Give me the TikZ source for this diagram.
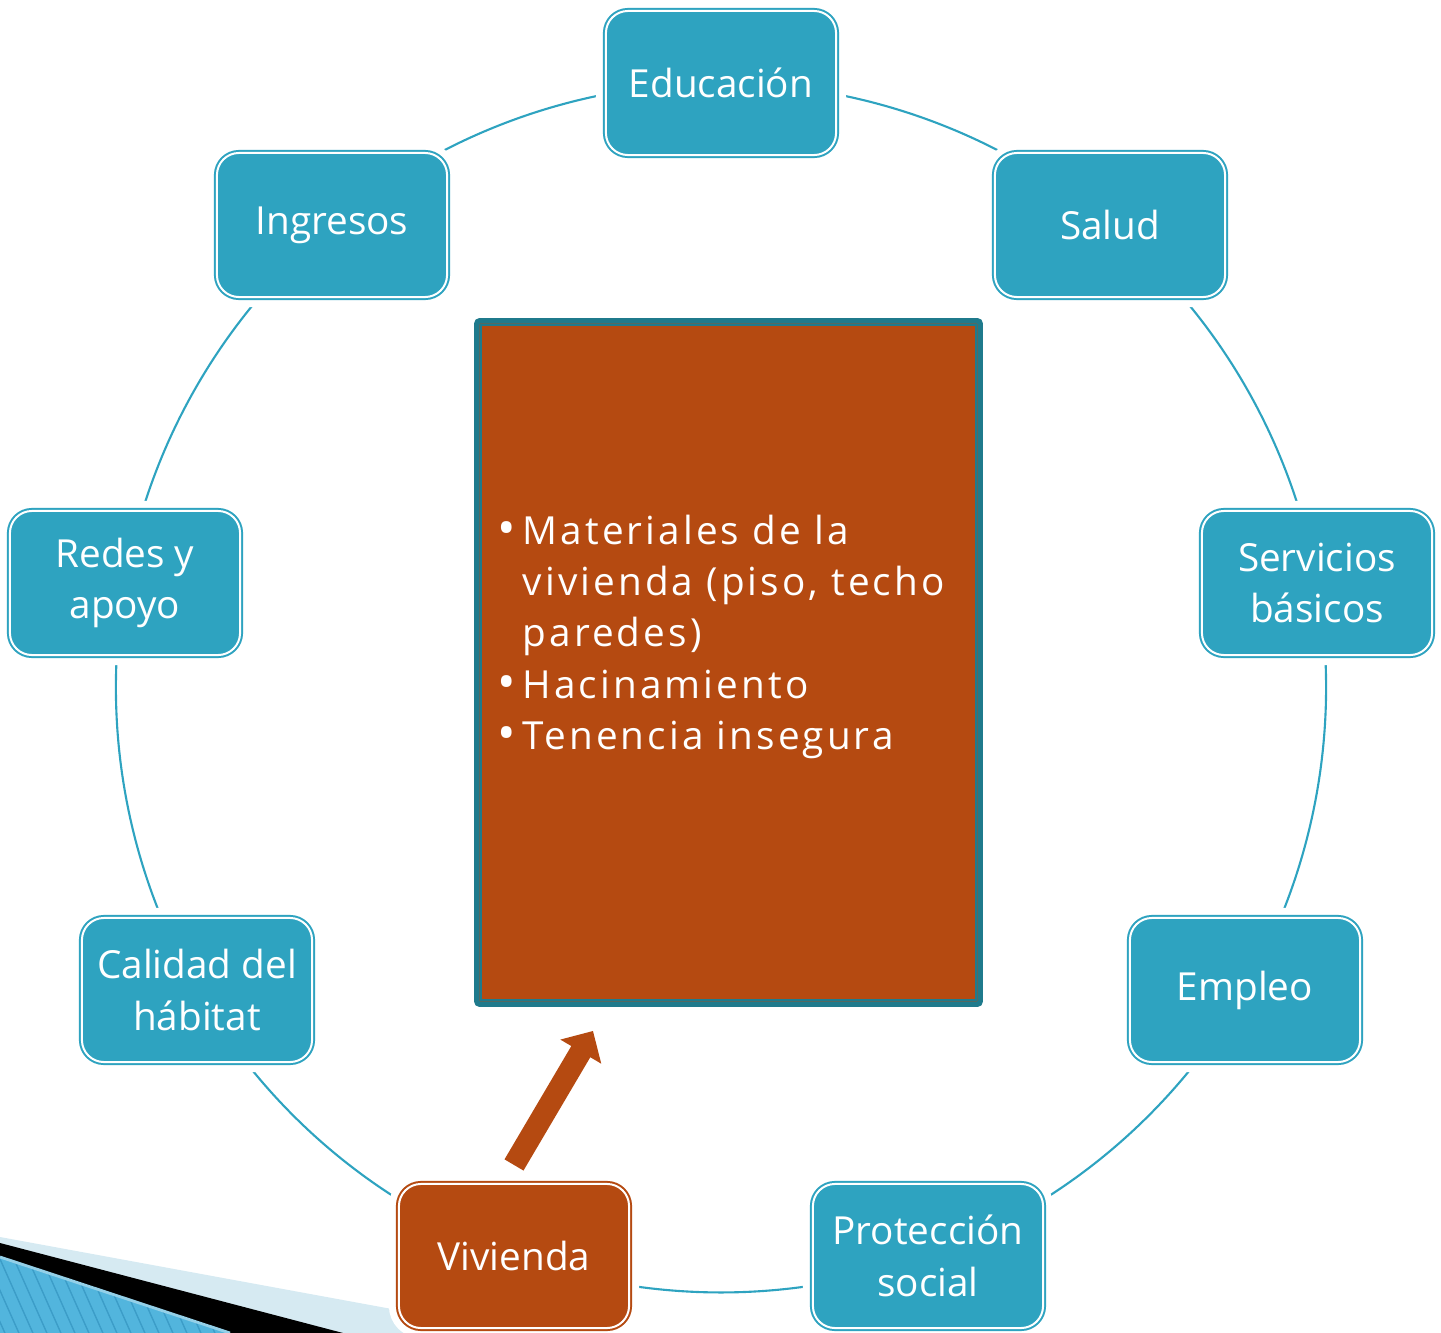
\documentclass[tikz,border=0pt]{standalone}
\usepackage{fontspec}
\setmainfont{Open Sans}
\newfontfamily\listfont[LetterSpace=8]{Open Sans}
\usetikzlibrary{positioning, arrows.meta, calc, backgrounds}
\definecolor{ringblue}{HTML}{2EA3C0}
\definecolor{housered}{HTML}{B54A11}
\definecolor{frameteal}{HTML}{1F7A8C}
\definecolor{decolight}{HTML}{D6EAF2}
\definecolor{decoblue}{HTML}{52B5DD}
\definecolor{decostripe}{HTML}{3C9DC8}
\newcommand{\bul}{\makebox[0.25cm][l]{\raisebox{-0.4pt}{\fontsize{14}{14}\selectfont •}}}

\begin{document}
\begin{tikzpicture}[x=0.01cm, y=-0.01cm,
    dim/.style={rectangle, rounded corners=0.22cm, minimum width=2.30cm, minimum height=1.44cm,
      draw=white, line width=0.02cm, text=white, align=center, inner sep=0pt,
      font=\fontsize{11}{14.7}\selectfont},
    dimblue/.style={dim, fill=ringblue,
      preaction={draw=white, line width=0.2cm}, preaction={draw=ringblue, line width=0.06cm}},
    dimred/.style={dim, fill=housered,
      preaction={draw=white, line width=0.2cm}, preaction={draw=housered, line width=0.06cm}},
    ring/.style={draw=ringblue, line width=0.6pt, bend left=20, looseness=0.88},
    bigarrow/.style={draw=housered, line width=0.22cm, -{Triangle[width=0.46cm, length=0.24cm]}}]
  \useasboundingbox (0,0) rectangle (1441,1333);

  % dimensions round the cycle
  \node[dimblue] (edu) at (721,83) {Educación};
  \node[dimblue] (salud) at (1110,225) {Salud};
  \node[dimblue] (serv) at (1317,583) {Servicios\\básicos};
  \node[dimblue] (empleo) at (1245,990) {Empleo};
  \node[dimblue] (prot) at (928,1256) {Protección\\social};
  \node[dimred] (viv) at (514,1256) {Vivienda};
  \node[dimblue] (cal) at (197,990) {Calidad del\\hábitat};
  \node[dimblue] (redes) at (125,583) {Redes y\\apoyo};
  \node[dimblue] (ingr) at (332,225) {Ingresos};

  % centre box
  \node[rectangle, rounded corners=0.03cm, minimum width=5.03cm, minimum height=6.83cm,
    fill=housered, draw=frameteal, line width=0.055cm] (mat) at (728.5,662.5) {};
  \draw[frameteal, line width=0.018cm] ($(mat.north west)+(7,7)$) rectangle ($(mat.south east)+(-7,-7)$);
  \node[anchor=north west, align=left, text=white, inner sep=0pt,
    font={\listfont\fontsize{11}{14.6}\selectfont}] (lst) at (497,514)
    {\bul Materiales de la\\\hphantom{\bul}vivienda (piso, techo\\\hphantom{\bul}paredes)\\\bul Hacinamiento\\\bul Tenencia insegura};

  \coordinate (atail) at ($(viv.north)+(0,-18)$);
  \coordinate (ahead) at ($(mat.south)+(-135.5,24)$);
  \draw[bigarrow] (atail) -- (ahead);

  \begin{scope}[on background layer]
    % corner decoration
    \begin{scope}
      \clip (0,0) rectangle (1441,1333);
      \fill[decolight] (0,1237) -- (430,1316) -- (430,1333) -- (0,1333) -- cycle;
      \fill[black] (0,1243) -- (343,1333) -- (0,1333) -- cycle;
      \begin{scope}
        \clip (0,1257) -- (230,1333) -- (0,1333) -- cycle;
        \fill[decoblue] (0,1250) rectangle (240,1340);
        \foreach \s in {-60,-46,...,240}
          \draw[decostripe, line width=0.4pt] (\s,1250) -- ++(40,90);
      \end{scope}
      \draw[decolight!50!decoblue, line width=0.8pt] (0,1257) -- (230,1333);
    \end{scope}
    % cycle
    \foreach \a/\b in {edu/salud, salud/serv, serv/empleo, empleo/prot, prot/viv,
        viv/cal, cal/redes, redes/ingr, ingr/edu}
      \draw[ring] (\a.center) to (\b.center);
  \end{scope}
\end{tikzpicture}
\end{document}
